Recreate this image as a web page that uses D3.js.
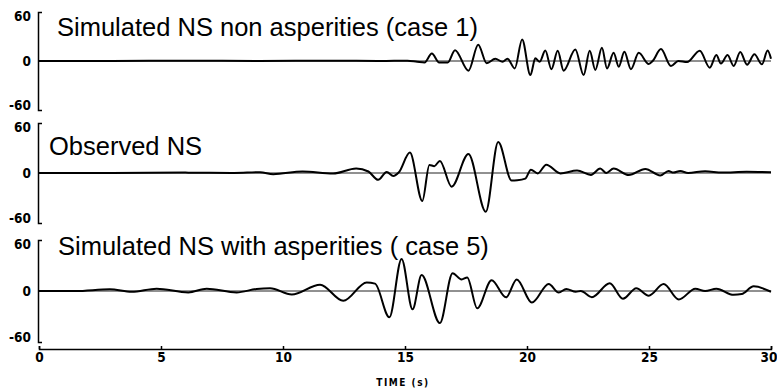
<!DOCTYPE html>
<html>
<head>
<meta charset="utf-8">
<script src="https://cdn.jsdelivr.net/npm/d3@7"></script>
<style>
  body { margin: 0; background: #fff; }
  svg { display: block; }
  .tick text { font-family: "Liberation Sans Narrow", "DejaVu Sans Condensed", sans-serif; font-weight: bold; font-size: 13.5px; fill: #000; }
  .title { font-family: "Liberation Sans", Arial, sans-serif; font-size: 25.5px; fill: #000; }
</style>
</head>
<body>
<svg width="777" height="388"></svg>
<script>
// time (s) and amplitude, peaks and troughs only
const case1Time = [0, 3, 6, 9, 12, 14, 15.1, 15.5, 15.8, 16.1, 16.4, 16.75, 17.05, 17.6, 18.0, 18.35, 18.7, 19.0, 19.2, 19.5, 19.8, 20.14, 20.34, 20.52, 20.75, 21.0, 21.26, 21.5, 21.98, 22.32, 22.57, 22.8, 23.07, 23.28, 23.55, 23.76, 23.99, 24.26, 24.58, 24.99, 25.15, 25.49, 25.9, 26.2, 26.56, 27.08, 27.49, 27.76, 27.95, 28.22, 28.47, 28.74, 29.02, 29.32, 29.63, 29.86, 30];
const case1Acc  = [0, 0, 0.5, 0, 0.5, 0, 0.5, -1, -2, 10, -2, -2, 14.6, -13, 22, -3, 3, -1, 3, -10, 29, -19, 3.6, -1, 14, -11, 13.7, -13, 15.5, -19, 13.7, -12, 17.7, -10, 11, -7.6, 12.4, -11, 11, -4, 0, 16, -6.7, 0, -1.5, 13.7, -9, 8, -3.5, 8, -6.7, 12, -5, 9, -4.5, 14, 3];

const observedTime = [0, 3, 6, 8, 9.06, 9.6, 10.8, 12.05, 13.0, 13.5, 13.9, 14.25, 14.52, 14.75, 15.2, 15.71, 16.0, 16.2, 16.43, 16.91, 17.6, 18.31, 18.82, 19.37, 19.6, 19.93, 20.16, 20.44, 20.79, 21.37, 22.05, 22.62, 23.0, 23.25, 23.55, 24.17, 24.85, 25.46, 25.8, 26.0, 26.28, 26.6, 27.3, 28.0, 29.0, 30];
const observedAcc  = [0, 0, 0.5, 0, 1, -1.5, 2, -0.7, 6, 2, -9, 1.4, -4, 1, 27, -37, 10.7, 9, 16, -18, 25, -51, 41, -10, -9.7, -7.5, 4.4, -0.5, 11, -0.5, 3.3, -2.5, 5.8, 0, 5.8, -2.7, 5.4, -3.3, 2.7, 0.5, 2.7, 0, 2.4, 0.5, 1.5, 1];

const case5Time = [0, 1.5, 2.9, 3.8, 4.82, 6.12, 6.87, 8.1, 8.92, 9.47, 10.36, 11.52, 12.47, 13.43, 13.77, 14.36, 14.86, 15.31, 15.68, 16.43, 16.95, 17.32, 17.55, 17.96, 18.55, 19.14, 19.58, 20.2, 20.89, 21.3, 21.61, 22.0, 22.2, 22.66, 23.39, 23.93, 24.48, 24.99, 25.6, 26.22, 26.9, 27.3, 27.76, 28.47, 28.8, 29.29, 30];
const case5Acc  = [0, 0, 2.2, -1, 3, -1.8, 3, -1.8, 2.6, 3.5, -4.6, 8.2, -12.7, 11, 9.5, -34, 41.5, -23.7, 20.6, -41.5, 22.9, 15, 17.6, -22.4, 14, -8.2, 15, -15, 9, -2, 2.7, -1, 0, -8, 10, -10, 3.5, -6, 9, -11, 3, 0, 3, -5, -4, 6, -1];

const panelTitles = ["Simulated NS non asperities (case 1)", "Observed NS", "Simulated NS with asperities ( case 5)"];
const xTicks = [0, 5, 10, 15, 20, 25, 30];
const yTicks = [-60, 0, 60];

const svg = d3.select("svg");
const x = d3.scaleLinear().domain([0, 30]).range([39, 771]);

const panels = [
  {time: case1Time, acc: case1Acc, top: 12, bottom: 110, titleX: 57, titleY: 36},
  {time: observedTime, acc: observedAcc, top: 123, bottom: 223, titleX: 49, titleY: 155},
  {time: case5Time, acc: case5Acc, top: 240, bottom: 342, titleX: 58, titleY: 255}
];

panels.forEach(function (p, i) {
  const y = d3.scaleLinear().domain([-66, 66]).range([p.bottom, p.top]);
  const pts = p.time.map(function (t, j) { return [t, p.acc[j]]; });

  // zero reference line
  svg.append("line")
    .attr("x1", x(0)).attr("x2", x(30))
    .attr("y1", y(0)).attr("y2", y(0))
    .attr("stroke", "#222").attr("stroke-width", 1);

  const line = d3.line()
    .x(function (d) { return x(d[0]); })
    .y(function (d) { return y(d[1]); })
    .curve(d3.curveMonotoneX);

  svg.append("path")
    .datum(pts)
    .attr("fill", "none")
    .attr("stroke", "#000")
    .attr("stroke-width", 2)
    .attr("stroke-linejoin", "round")
    .attr("d", line);

  // bracket-shaped y axis
  const ax = svg.append("g")
    .attr("transform", "translate(" + (x(0) - 1) + ",0)")
    .call(d3.axisLeft(y).tickValues(yTicks).tickFormat(function (d) { return String(d); })
      .tickSizeInner(0).tickSizeOuter(-4).tickPadding(7));
  ax.select(".domain").attr("stroke", "#000").attr("stroke-width", 1.5);

  svg.append("text")
    .attr("class", "title")
    .attr("x", p.titleX)
    .attr("y", p.titleY)
    .text(panelTitles[i]);
});

const xa = svg.append("g")
  .attr("transform", "translate(0,349)")
  .call(d3.axisBottom(x).tickValues(xTicks).tickFormat(d3.format("d")).tickSizeInner(-3).tickSizeOuter(-3).tickPadding(3));
xa.select(".domain").attr("stroke", "#000").attr("stroke-width", 1.5);
xa.selectAll(".tick line").attr("stroke-width", 1.5);
// last label sits against the right edge, as in the original
xa.selectAll(".tick text").filter(function (d) { return d === 30; })
  .attr("text-anchor", "end").attr("dx", "6");

svg.append("text")
  .attr("x", 403)
  .attr("y", 386)
  .attr("text-anchor", "middle")
  .style("font-family", "'Liberation Sans Narrow', 'DejaVu Sans Condensed', sans-serif")
  .style("font-weight", "bold")
  .style("font-size", "10px")
  .style("letter-spacing", "1.5px")
  .text("TIME (s)");
</script>
</body>
</html>
